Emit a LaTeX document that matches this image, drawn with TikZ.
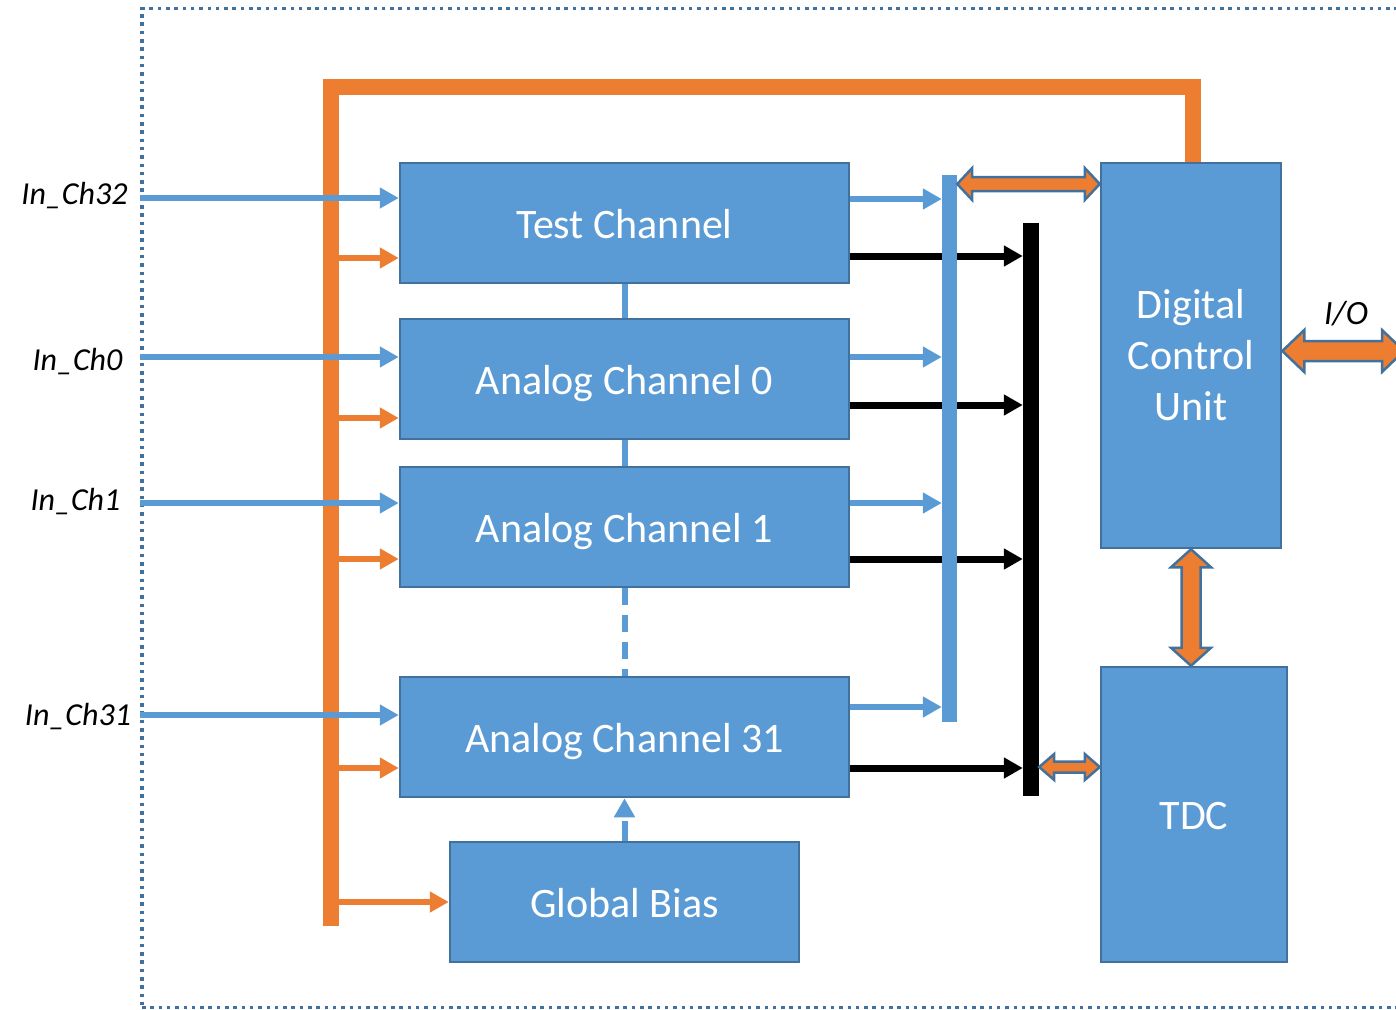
\documentclass[tikz,border=0pt]{standalone}
\usepackage{fontspec}
\setmainfont{Carlito}
\usetikzlibrary{arrows.meta,calc}
\definecolor{boxblue}{HTML}{5B9BD5}
\definecolor{edgeblue}{HTML}{41719C}
\definecolor{busorange}{HTML}{ED7D31}
\pgfdeclarelayer{back}
\pgfsetlayers{back,main}

% horizontal block double arrow: start, end, shaft half width, head half width, head length
\newcommand\hblock[5]{%
  \path[blockarrow] let \p1=(#1), \p2=(#2) in
    (\x1,\y1) -- (\x1+#5,\y1+#4) -- (\x1+#5,\y1+#3) -- (\x2-#5,\y1+#3)
    -- (\x2-#5,\y1+#4) -- (\x2,\y1) -- (\x2-#5,\y1-#4) -- (\x2-#5,\y1-#3)
    -- (\x1+#5,\y1-#3) -- (\x1+#5,\y1-#4) -- cycle;}
% vertical block double arrow, top to bottom
\newcommand\vblock[5]{%
  \path[blockarrow] let \p1=(#1), \p2=(#2) in
    (\x1,\y1) -- (\x1+#4,\y1-#5) -- (\x1+#3,\y1-#5) -- (\x1+#3,\y2+#5)
    -- (\x1+#4,\y2+#5) -- (\x1,\y2) -- (\x1-#4,\y2+#5) -- (\x1-#3,\y2+#5)
    -- (\x1-#3,\y1-#5) -- (\x1-#4,\y1-#5) -- cycle;}

\begin{document}
\begin{tikzpicture}[x=1pt,y=-1pt,
  box/.style={draw=edgeblue, line width=2.5pt, fill=boxblue, text=white,
    inner sep=0pt, align=center, font=\fontsize{42}{51}\selectfont},
  oneline/.style={text height=30pt, text depth=0pt},
  tip/.style={-{Triangle[length=19pt,width=20pt]}},
  inarrow/.style={draw=boxblue, line width=6pt, tip},
  oarrow/.style={draw=busorange, line width=6pt, tip},
  karrow/.style={draw=black, line width=7pt, tip},
  link/.style={draw=boxblue, line width=6pt},
  blockarrow/.style={fill=busorange, draw=edgeblue, line width=2.5pt, line join=miter},
  lbl/.style={inner sep=0pt, anchor=base, font=\fontsize{32}{38}\selectfont\itshape},
]
\useasboundingbox (0,0) rectangle (1396,1009);

% outer dotted frame
\node[draw=edgeblue, line width=3.5pt, dash pattern=on 3.5pt off 4.8pt,
  inner sep=0pt, minimum width=1278pt, minimum height=999pt] (frame) at (781,508) {};

% functional blocks
\node[box, oneline, minimum width=449pt, minimum height=120pt] (test) at (624.5,223) {Test Channel};
\node[box, oneline, minimum width=449pt, minimum height=120pt] (ac0) at (624.5,379) {Analog Channel 0};
\node[box, oneline, minimum width=449pt, minimum height=120pt] (ac1) at (624.5,527) {Analog Channel 1};
\node[box, oneline, minimum width=449pt, minimum height=120pt] (ac31) at (624.5,737) {Analog Channel 31};
\node[box, oneline, minimum width=349pt, minimum height=120pt] (gb) at (624.5,902) {Global Bias};
\node[box, minimum width=180pt, minimum height=385pt] (dcu) at (1191,355.5) {Digital\\Control\\Unit};
\node[box, oneline, minimum width=186pt, minimum height=295pt] (tdc) at (1194,814.5) {TDC};

% collecting buses
\node[fill=boxblue, inner sep=0pt, minimum width=15pt, minimum height=547pt] (bbus) at (949.5,448.5) {};
\node[fill=black, inner sep=0pt, minimum width=16pt, minimum height=573pt] (kbus) at (1031,509.5) {};

% digital outputs to the black bus (behind the blue bus)
\begin{pgfonlayer}{back}
\draw[karrow] (test.east |- 0,256) -- (kbus.west |- 0,256);
\draw[karrow] (ac0.east |- 0,405) -- (kbus.west |- 0,405);
\draw[karrow] (ac1.east |- 0,559) -- (kbus.west |- 0,559);
\draw[karrow] (ac31.east |- 0,768) -- (kbus.west |- 0,768);
\end{pgfonlayer}

% analog outputs to the blue bus
\draw[inarrow] (test.east |- 0,199) -- (bbus.west |- 0,199);
\draw[inarrow] (ac0.east |- 0,357) -- (bbus.west |- 0,357);
\draw[inarrow] (ac1.east |- 0,503) -- (bbus.west |- 0,503);
\draw[inarrow] (ac31.east |- 0,707) -- (bbus.west |- 0,707);

% configuration bus from the digital control unit
\draw[busorange, line width=16pt, line join=miter] (331,926) -- (331,87) -- (1193,87) -- (1193,0 |- dcu.north);
\coordinate (ob) at (331,0);
\draw[oarrow] (ob |- 0,258) -- (test.west |- 0,258);
\draw[oarrow] (ob |- 0,418) -- (ac0.west |- 0,418);
\draw[oarrow] (ob |- 0,559) -- (ac1.west |- 0,559);
\draw[oarrow] (ob |- 0,768) -- (ac31.west |- 0,768);
\draw[oarrow] (ob |- gb.west) -- (gb.west);

% channel inputs
\draw[inarrow] (frame.west |- 0,198) -- (test.west |- 0,198);
\draw[inarrow] (frame.west |- 0,357) -- (ac0.west |- 0,357);
\draw[inarrow] (frame.west |- 0,503) -- (ac1.west |- 0,503);
\draw[inarrow] (frame.west |- 0,715) -- (ac31.west |- 0,715);

% links between channels and bias
\draw[link] (test.south) -- (ac0.north);
\draw[link] (ac0.south) -- (ac1.north);
\draw[link, dash pattern=on 17pt off 10pt] (ac1.south) -- (ac31.north);
\draw[link, dash pattern=on 20pt off 10pt, tip] (gb.north) -- (ac31.south);

% bidirectional data paths
\hblock{bbus.east |- 0,184}{dcu.west |- 0,184}{7}{16}{15}
\hblock{kbus.east |- 0,767}{tdc.west |- 0,767}{5.5}{13}{15}
\vblock{dcu.south}{tdc.north}{9.5}{20}{18}
\coordinate (ioend) at (1404,351);
\hblock{dcu.east |- 0,351}{ioend}{10}{21}{22}

% labels
\node[lbl] (l32) at (74.5,204) {In\_Ch32};
\node[lbl] (l0) at (77.5,370) {In\_Ch0};
\node[lbl] (l1) at (75.5,510) {In\_Ch1};
\node[lbl] (l31) at (78,725) {In\_Ch31};
\node[lbl, font=\fontsize{34}{40}\selectfont\itshape] (io) at (1346,324) {I/O};
\end{tikzpicture}
\end{document}
